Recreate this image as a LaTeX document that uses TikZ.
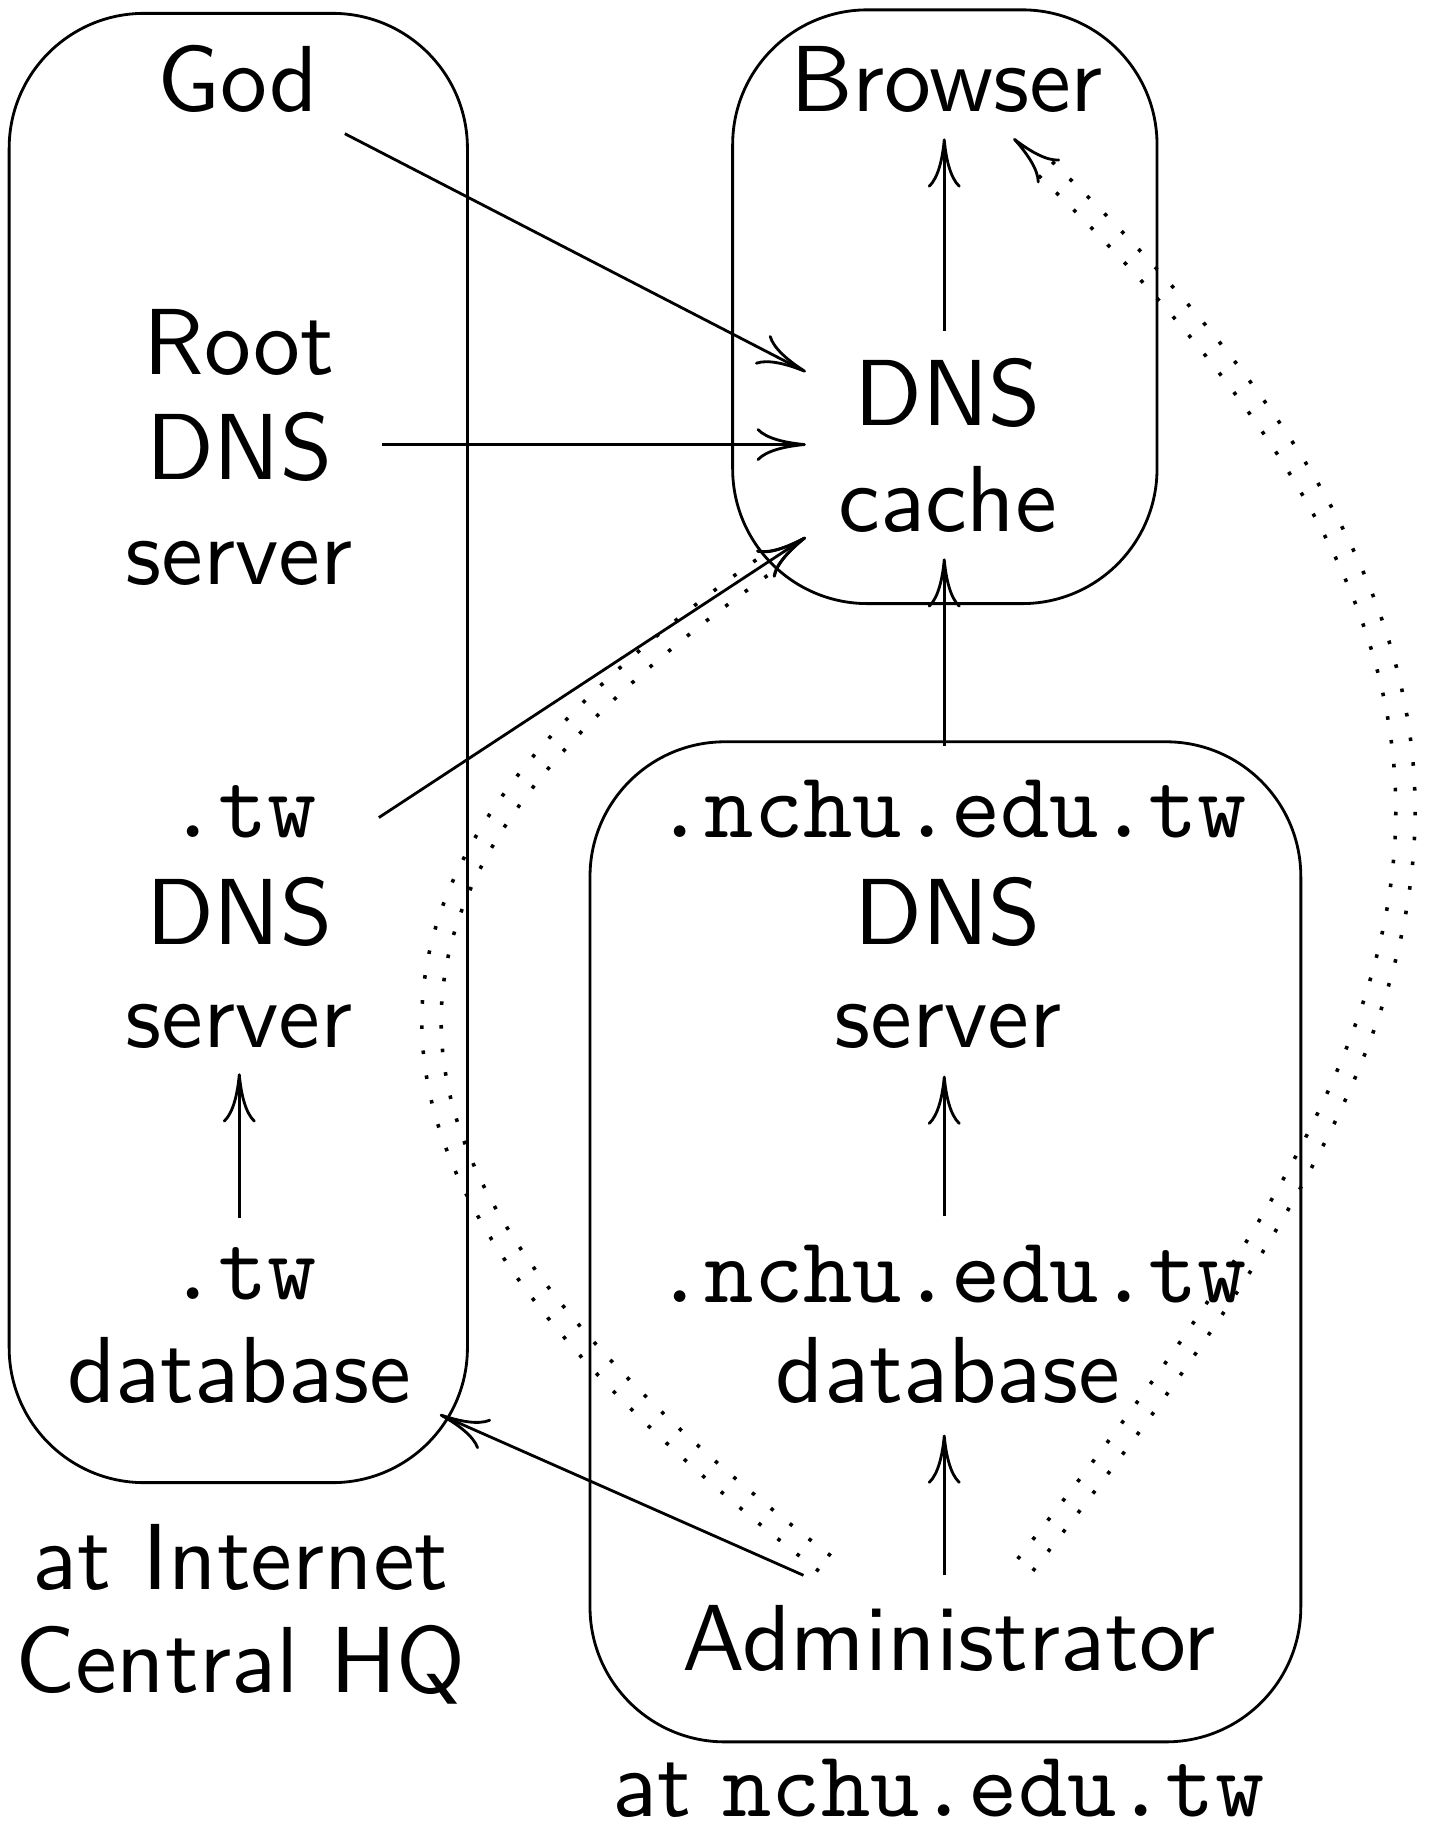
\documentclass[tikz,border=0pt]{standalone}
\usepackage{graphicx}
\usetikzlibrary{arrows.meta,decorations.markings}
\renewcommand{\familydefault}{\sfdefault}
\newcommand{\bigtxt}[1]{\scalebox{2}{#1}}
\begin{document}
\begin{tikzpicture}[x=0.25pt,y=-0.25pt,
  txt/.style={anchor=base, inner sep=0pt, font=\fontsize{10}{11}\selectfont},
  tt/.style={anchor=base, inner sep=0pt, font=\fontsize{10}{11}\selectfont\ttfamily},
  frame/.style={draw, line width=0.6pt, rounded corners=28.75pt, inner sep=0pt},
  arr/.style={line width=0.6pt, -{To[length=10.5pt,width=7pt]}},
  dd/.style={postaction={decorate}, decoration={markings,
     mark=between positions 0 and #1 step 5.2pt with {
       \fill (-0.38pt,1.68pt) rectangle (0.38pt,2.44pt);
       \fill (-0.38pt,-2.44pt) rectangle (0.38pt,-1.68pt);}}}
]
\useasboundingbox (0,0) rectangle (1220,1561);

% connector end points
\coordinate (adminL) at (702,1332);
\coordinate (adminR) at (875,1333);
\coordinate (cacheIn) at (687,458);
\coordinate (cacheInPre) at (683.7,460.2);
\coordinate (browserIn) at (864,118);
\coordinate (browserInPre) at (866.9,120.7);

% dotted (double) curves drawn first
\path[dd=0.963] (adminL) .. controls (249,982) and (269,740) .. (cacheIn);
\path[dd=0.972] (adminR) .. controls (1237,872) and (1374,593) .. (browserIn);
\draw[arr] (cacheInPre) -- (cacheIn);
\draw[arr] (browserInPre) -- (browserIn);

% frames
\node[frame, minimum width=97.675pt, minimum height=313.15pt] (hqbox) at (203.15,637.7) {};
\node[frame, minimum width=90.45pt, minimum height=126.55pt] (userbox) at (805.5,261.5) {};
\node[frame, minimum width=151.5pt, minimum height=213.15pt] (nchubox) at (806,1058.7) {};

% left column
\node[txt] (god) at (203,95) {\bigtxt{God}};
\node[txt] (root1) at (204,319) {\bigtxt{Root}};
\node[txt] (root2) at (204,409) {\bigtxt{DNS}};
\node[txt] (root3) at (204,498) {\bigtxt{server}};
\node[tt] (tw1) at (207,714) {\bigtxt{.tw}};
\node[txt] (tw2) at (204,805) {\bigtxt{DNS}};
\node[txt] (tw3) at (204,893) {\bigtxt{server}};
\node[tt] (twdb1) at (207,1108) {\bigtxt{.tw}};
\node[txt] (twdb2) at (204,1196) {\bigtxt{database}};
\node[txt] (hq1) at (205,1355) {\bigtxt{at Internet}};
\node[txt] (hq2) at (205,1443) {\bigtxt{Central HQ}};

% right column
\node[txt] (browser) at (807,95) {\bigtxt{Browser}};
\node[txt] (cache1) at (808,363) {\bigtxt{DNS}};
\node[txt] (cache2) at (808,453) {\bigtxt{cache}};
\node[tt] (ns1) at (811,714) {\bigtxt{.nchu.edu.tw}};
\node[txt] (ns2) at (808,805) {\bigtxt{DNS}};
\node[txt] (ns3) at (808,893) {\bigtxt{server}};
\node[tt] (db1) at (811,1110) {\bigtxt{.nchu.edu.tw}};
\node[txt] (db2) at (808,1196) {\bigtxt{database}};
\node[txt] (admin) at (809,1424) {\bigtxt{Administrator}};
\node[txt] (nchu) at (800,1549) {\bigtxt{at \texttt{nchu.edu.tw}}};

% straight connectors
\coordinate (godOut) at (294,114);
\coordinate (godIn) at (687,317);
\coordinate (rootOut) at (326,379);
\coordinate (rootIn) at (687,379);
\coordinate (twOut) at (323,697);
\coordinate (cacheUp) at (805,282);
\coordinate (browserDown) at (805,118);
\coordinate (nsUp) at (805,636);
\coordinate (cacheDown) at (805,476);
\coordinate (twdbUp) at (204,1038);
\coordinate (twsDown) at (204,915);
\coordinate (dbUp) at (805,1037);
\coordinate (nsDown) at (805,917);
\coordinate (adminUp) at (805,1343);
\coordinate (dbDown) at (805,1223);
\coordinate (adminOut) at (685,1343);
\coordinate (twdbIn) at (375,1206);

\draw[arr] (godOut) -- (godIn);
\draw[arr] (rootOut) -- (rootIn);
\draw[arr] (twOut) -- (cacheIn);
\draw[arr] (cacheUp) -- (browserDown);
\draw[arr] (nsUp) -- (cacheDown);
\draw[arr] (twdbUp) -- (twsDown);
\draw[arr] (dbUp) -- (nsDown);
\draw[arr] (adminUp) -- (dbDown);
\draw[arr] (adminOut) -- (twdbIn);
\end{tikzpicture}
\end{document}
